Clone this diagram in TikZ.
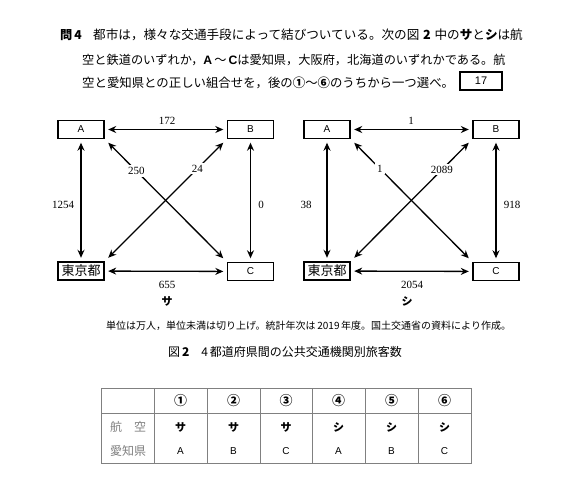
\documentclass[tikz,border=0pt]{standalone}
\usepackage{fontspec}
\setmainfont{Liberation Serif}
\newfontfamily\jp{Noto Sans CJK JP}
\newfontfamily\gs{Liberation Sans}
\usetikzlibrary{arrows.meta}
\definecolor{tabgray}{gray}{0.5}
\begin{document}
\begin{tikzpicture}[x=1pt,y=-1pt,
  box/.style={draw,line width=1.4pt,minimum width=46pt,minimum height=18pt,inner sep=0pt,font=\gs\fontsize{10}{10}\selectfont},
  arr/.style={line width=1.3pt,{Stealth[length=8pt,width=7pt]}-{Stealth[length=8pt,width=7pt]},shorten >=3.5pt,shorten <=3.5pt},
  darr/.style={arr,shorten >=5pt,shorten <=5pt},
  num/.style={font=\fontsize{11}{11}\selectfont,inner sep=1pt},
  dnum/.style={num,fill=white,inner sep=2pt},
  line/.style={anchor=west,inner sep=0pt,font=\jp\fontsize{12.2}{12}\selectfont},
  tab/.style={draw=tabgray,line width=0.8pt},
  cell/.style={inner sep=0pt,font=\jp\fontsize{13}{13}\selectfont},
  gcell/.style={inner sep=0pt,font=\jp\fontsize{12}{12}\selectfont,text=tabgray},
  lcell/.style={inner sep=0pt,font=\gs\fontsize{10}{10}\selectfont},
  kana/.style={inner sep=0pt,font=\jp\bfseries\fontsize{11}{11}\selectfont}
]
\useasboundingbox[fill=white] (0,0) rectangle (586,495);

% question text
\node[line] (q0) at (60,35) {\bfseries 問\,4};
\node[line,font=\jp\fontsize{12.6}{12}\selectfont] (q1) at (93,35) {都市は，様々な交通手段によって結びついている。次の図\hspace{0.3em}\textbf{2}\hspace{0.3em}中の\textbf{サ}と\textbf{シ}は航};
\node[line] (q2) at (82,60) {空と鉄道のいずれか，{\gs\bfseries A}\,～\,{\gs\bfseries C}は愛知県，大阪府，北海道のいずれかである。航};
\node[line,font=\jp\fontsize{12.4}{12}\selectfont] (q3) at (82,83) {空と愛知県との正しい組合せを，後の{\bfseries ①}～{\bfseries ⑥}のうちから一つ選べ。};
\node[draw,line width=1.4pt,minimum width=42pt,minimum height=18pt,inner sep=0pt,font=\gs\fontsize{11}{11}\selectfont] (ans) at (481,81) {17};

% left diagram (sa)
\node[box] (A) at (81,129.5) {A};
\node[box] (B) at (250.5,129.5) {B};
\node[box,font=\jp\fontsize{13}{13}\selectfont] (T) at (81,271) {東京都};
\node[box] (C) at (250.5,271.5) {C};
\draw[arr] (A) -- (B);
\draw[arr] (A) -- (T);
\draw[arr] (B) -- (C);
\draw[arr] (T) -- (C);
\draw[darr] (A.south east) -- (C.north west) node[dnum,pos=0.26] (l250) {250};
\draw[darr] (T.north east) -- (B.south west) node[dnum,pos=0.76] (l24) {24};
\node[num] (l172) at (167,121) {172};
\node[num] (l1254) at (63,205) {1254};
\node[num] (l0) at (261,205) {0};
\node[num] (l655) at (167,285) {655};
\node[kana] (sa) at (167,301) {サ};

% right diagram (shi)
\node[box] (A2) at (327,129.5) {A};
\node[box] (B2) at (496,129.5) {B};
\node[box,font=\jp\fontsize{13}{13}\selectfont] (T2) at (327,271) {東京都};
\node[box] (C2) at (496,271.5) {C};
\draw[arr] (A2) -- (B2);
\draw[arr] (A2) -- (T2);
\draw[arr] (B2) -- (C2);
\draw[arr] (T2) -- (C2);
\draw[darr] (A2.south east) -- (C2.north west) node[dnum,pos=0.24] (l1d) {1};
\draw[darr] (T2.north east) -- (B2.south west) node[dnum,pos=0.75] (l2089) {2089};
\node[num] (l1) at (411,121) {1};
\node[num] (l38) at (306,205) {38};
\node[num] (l918) at (512,205) {918};
\node[num] (l2054) at (412,285) {2054};
\node[kana] (shi) at (407,301) {シ};

% notes
\node[anchor=west,inner sep=0pt,font=\jp\fontsize{10}{10}\selectfont] (note) at (106,326) {単位は万人，単位未満は切り上げ。統計年次は\,2019\,年度。国土交通省の資料により作成。};
\node[inner sep=0pt,font=\jp\fontsize{12}{12}\selectfont] (cap) at (285,352) {図\,\textbf{2}\quad 4\,都道府県間の公共交通機関別旅客数};

% table
\draw[tab] (101,388) rectangle (471,463);
\draw[tab] (101,413) -- (471,413);
\foreach \xx in {154,207,260,312,365,418} \draw[tab] (\xx,388) -- (\xx,463);
\foreach \xx/\d in {180.5/①,233.5/②,286/③,338.5/④,391.5/⑤,444.5/⑥}
  \node[cell] at (\xx,401) {\bfseries\d};
\node[gcell] (h1) at (128,427) {航\hspace{1em}空};
\node[gcell] (h2) at (128,451) {愛知県};
\foreach \xx/\k/\l in {180.5/サ/A,233.5/サ/B,286/サ/C,338.5/シ/A,391.5/シ/B,444.5/シ/C}{
  \node[kana] at (\xx,427) {\k};
  \node[lcell] at (\xx,451) {\l};
}
\end{tikzpicture}
\end{document}
